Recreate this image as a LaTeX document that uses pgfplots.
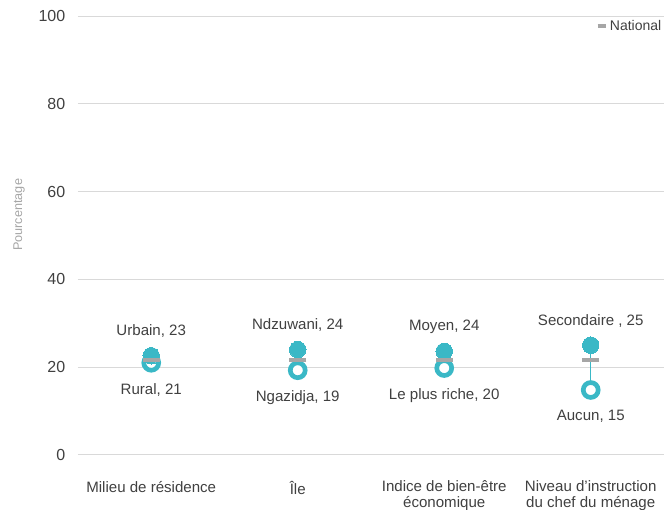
\documentclass[border=0pt]{standalone}
\usepackage{pgfplots}
\pgfplotsset{compat=1.18}
\usepackage{fontspec}
\setmainfont{Liberation Sans}
\definecolor{teal1}{HTML}{3AB8C6}
\definecolor{natgray}{HTML}{A6A6A6}
\definecolor{gridc}{HTML}{D9D9D9}
\definecolor{txt}{HTML}{404040}
\begin{document}
\begin{tikzpicture}
\begin{axis}[
  scale only axis,
  width=439.5pt, height=329.25pt,
  xmin=-0.5, xmax=3.5, ymin=0, ymax=100,
  ytick={0,20,40,60,80,100},
  xtick={0,1,2,3},
  xticklabels={Milieu de résidence,Île,Indice de bien-être\\économique,Niveau d'instruction\\du chef du ménage},
  xticklabel style={align=center, font=\fontsize{11.3}{12}\selectfont, text=txt, yshift=-16pt},
  yticklabel style={font=\fontsize{12}{14}\selectfont, text=txt, xshift=-6pt},
  /pgf/number format/assume math mode=true,
  axis line style={draw=none},
  major tick style={draw=none},
  ymajorgrids, grid style={gridc, line width=0.7pt},
  ylabel={Pourcentage},
  every axis y label/.style={at={(rel axis cs:-0.1007,0.547)}, rotate=90, anchor=center,
    font=\fontsize{9.5}{11}\selectfont, text=natgray},
  legend style={at={(rel axis cs:1,1.0)}, anchor=north east, draw=none, fill=none,
    font=\fontsize{10.5}{12}\selectfont, text=txt, inner sep=0pt, outer sep=0pt,
    legend cell align=left, yshift=-1pt},
  legend image code/.code={\draw[natgray, line width=2.5pt] (0pt,0pt) -- (6pt,0pt);},
  clip=false,
]
% connecting lines
\addplot[teal1, line width=1pt, forget plot] coordinates {(0,22.6) (0,21.0)};
\addplot[teal1, line width=1pt, forget plot] coordinates {(1,24.0) (1,19.3)};
\addplot[teal1, line width=1pt, forget plot] coordinates {(2,23.6) (2,19.8)};
\addplot[teal1, line width=1pt, forget plot] coordinates {(3,25.0) (3,14.8)};
% ring series (lower)
\addplot[only marks, mark=*, mark size=5.6pt, mark options={draw=teal1, fill=white, line width=3.5pt},
  point meta=explicit symbolic, nodes near coords,
  every node near coord/.style={anchor=north, yshift=-13.5pt, inner sep=0pt, font=\fontsize{11.3}{13}\selectfont, text=txt},
  forget plot]
  coordinates {(0,21.0) [Rural, 21] (1,19.3) [Ngazidja, 19] (2,19.8) [Le plus riche, 20] (3,14.8) [Aucun, 15]};
% redraw inner line portion over ring fill
\addplot[teal1, line width=1pt, forget plot] coordinates {(1,21.0) (1,19.3)};
\addplot[teal1, line width=1pt, forget plot] coordinates {(2,21.0) (2,19.8)};
\addplot[teal1, line width=1pt, forget plot] coordinates {(3,17.0) (3,14.8)};
\addplot[teal1, line width=1pt, forget plot] coordinates {(0,22.0) (0,21.0)};
% filled series (upper)
\addplot[only marks, mark=*, mark size=6.2pt, mark options={draw=teal1, fill=teal1, line width=0pt},
  point meta=explicit symbolic, nodes near coords,
  every node near coord/.style={anchor=south, yshift=13.5pt, inner sep=0pt, font=\fontsize{11.3}{13}\selectfont, text=txt},
  forget plot]
  coordinates {(0,22.6) [Urbain, 23] (1,24.0) [Ndzuwani, 24] (2,23.6) [Moyen, 24] (3,25.0) [Secondaire , 25]};
% national
\addplot[only marks, mark=-, mark size=6.5pt, mark options={draw=natgray, line width=3.5pt}]
  coordinates {(0,21.6) (1,21.6) (2,21.6) (3,21.6)};
\addlegendentry{National}
\coordinate (ll) at (rel axis cs:-0.1331,-0.1253);
\coordinate (ur) at (rel axis cs:1.0137,1.0364);
\end{axis}
\pgfresetboundingbox
\path[use as bounding box] (ll) rectangle (ur);
\end{tikzpicture}
\end{document}
